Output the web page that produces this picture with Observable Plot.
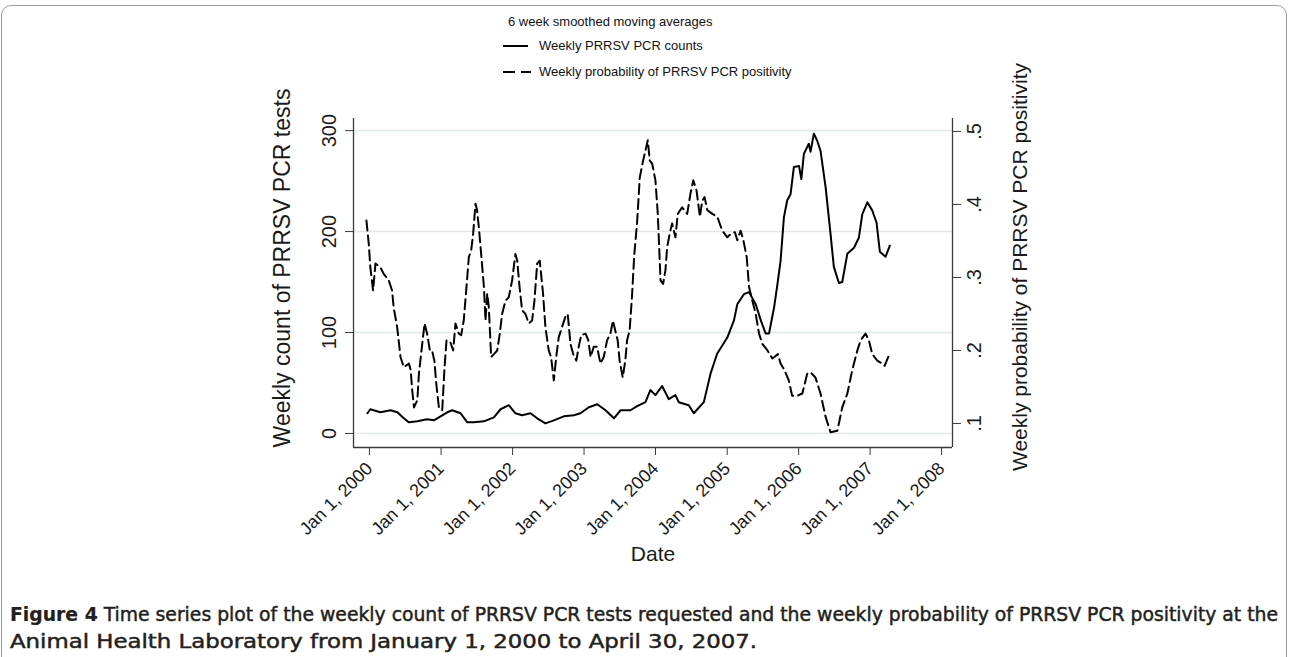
<!DOCTYPE html>
<html><head><meta charset="utf-8">
<script src="https://cdn.jsdelivr.net/npm/d3@7"></script>
<script src="https://cdn.jsdelivr.net/npm/@observablehq/plot@0.6"></script>
<style>
html,body{margin:0;padding:0;background:#fff;}
body{width:1290px;height:657px;position:relative;overflow:hidden;font-family:"Liberation Sans",Arial,sans-serif;}
#border{position:absolute;left:1px;top:5px;width:1286px;height:720px;border:1px solid #9a9a9a;border-radius:10px;box-sizing:border-box;}
#chart{position:absolute;left:0;top:0;}
.leg{position:absolute;font-size:13px;color:#111;white-space:nowrap;line-height:16px;}
.leg svg{position:absolute;}
#caption{position:absolute;left:10px;top:601px;font-family:"DejaVu Sans",sans-serif;font-stretch:condensed;font-size:20px;color:#231f20;line-height:27px;}
#caption div{white-space:nowrap;transform-origin:0 0;-webkit-text-stroke:0.45px #231f20;}
#caption b{-webkit-text-stroke:0.2px #231f20;}
</style></head><body>
<div id="border"></div>
<div id="chart"></div>
<div class="leg" style="left:508px;top:14px;">6 week smoothed moving averages</div>
<div class="leg" style="left:503px;top:38px;"><svg width="26" height="4" style="left:0;top:6px;"><line x1="0" y1="2" x2="25" y2="2" stroke="#000" stroke-width="2"/></svg><span style="position:absolute;left:36px;top:0;">Weekly PRRSV PCR counts</span></div>
<div class="leg" style="left:503px;top:64px;"><svg width="30" height="4" style="left:0;top:6px;"><line x1="0" y1="2" x2="28" y2="2" stroke="#000" stroke-width="2" stroke-dasharray="12,6"/></svg><span style="position:absolute;left:36px;top:0;">Weekly probability of PRRSV PCR positivity</span></div>
<div id="caption"><div id="cap1"><b>Figure 4</b> Time series plot of the weekly count of PRRSV PCR tests requested and the weekly probability of PRRSV PCR positivity at the</div><div id="cap2">Animal Health Laboratory from January 1, 2000 to April 30, 2007.</div></div>
<script>
// ---- data ----
const countDates = ["2000-01-06","2000-01-21","2000-03-12","2000-05-03","2000-06-07","2000-07-10","2000-08-05","2000-09-17","2000-11-06","2000-12-10","2001-01-05","2001-02-17","2001-03-14","2001-04-26","2001-05-30","2001-07-03","2001-08-23","2001-10-13","2001-11-16","2001-12-28","2002-01-31","2002-03-06","2002-04-18","2002-05-22","2002-07-03","2002-08-15","2002-10-05","2002-11-25","2002-12-29","2003-02-10","2003-03-25","2003-05-06","2003-06-18","2003-07-22","2003-09-10","2003-10-15","2003-11-26","2003-12-21","2004-01-16","2004-02-19","2004-03-24","2004-04-27","2004-05-14","2004-07-04","2004-07-30","2004-09-19","2004-10-23","2004-11-26","2005-01-17","2005-02-20","2005-03-09","2005-04-12","2005-05-08","2005-06-11","2005-07-07","2005-08-01","2005-08-18","2005-09-13","2005-09-30","2005-10-16","2005-11-02","2005-11-19","2005-12-06","2005-12-23","2006-01-18","2006-01-30","2006-02-12","2006-03-09","2006-03-18","2006-04-04","2006-04-21","2006-05-08","2006-06-03","2006-06-28","2006-07-15","2006-08-10","2006-08-27","2006-09-22","2006-10-26","2006-11-20","2006-12-07","2007-01-02","2007-01-27","2007-02-18","2007-03-07","2007-04-05","2007-04-27"];
const countValues = [20,24,21,23,21,15,11,12,14,13,16,21,23,20,11,11,12,16,24,28,20,18,20,15,10,13,17,18,20,26,29,23,15,23,23,27,31,43,38,47,34,38,31,28,20,31,59,79,95,112,128,138,140,128,112,99,99,125,148,171,214,231,237,264,265,252,277,287,279,297,290,280,244,198,165,149,150,178,184,194,217,229,221,209,180,175,186];

const probDates = ["2000-01-01","2000-01-13","2000-01-21","2000-02-04","2000-02-16","2000-03-12","2000-03-29","2000-04-24","2000-05-11","2000-05-19","2000-06-06","2000-06-23","2000-07-10","2000-08-05","2000-08-14","2000-08-22","2000-08-31","2000-09-17","2000-09-25","2000-10-12","2000-10-24","2000-11-06","2000-11-20","2000-12-01","2000-12-13","2000-12-23","2001-01-05","2001-01-22","2001-02-03","2001-02-13","2001-03-05","2001-03-19","2001-03-31","2001-04-17","2001-04-29","2001-05-12","2001-05-26","2001-06-07","2001-06-19","2001-06-29","2001-07-11","2001-07-19","2001-07-28","2001-08-09","2001-08-23","2001-08-31","2001-09-09","2001-09-17","2001-09-29","2001-10-13","2001-10-30","2001-11-12","2001-11-24","2001-12-11","2001-12-28","2002-01-14","2002-01-31","2002-02-09","2002-02-21","2002-03-06","2002-03-23","2002-04-09","2002-04-26","2002-05-08","2002-05-22","2002-06-04","2002-06-21","2002-07-03","2002-07-20","2002-08-01","2002-08-15","2002-08-29","2002-09-09","2002-09-26","2002-10-13","2002-10-25","2002-11-08","2002-11-22","2002-12-08","2002-12-20","2003-01-02","2003-01-24","2003-02-07","2003-02-19","2003-03-07","2003-03-24","2003-04-10","2003-04-27","2003-05-14","2003-05-31","2003-06-13","2003-06-25","2003-07-07","2003-07-17","2003-08-02","2003-08-15","2003-08-24","2003-09-06","2003-09-18","2003-09-30","2003-10-14","2003-10-28","2003-11-14","2003-11-26","2003-12-08","2003-12-18","2003-12-30","2004-01-16","2004-01-28","2004-02-11","2004-02-24","2004-03-07","2004-03-16","2004-03-29","2004-04-10","2004-04-27","2004-05-09","2004-05-31","2004-06-26","2004-07-13","2004-07-27","2004-08-13","2004-08-30","2004-09-11","2004-09-23","2004-10-07","2004-11-02","2004-11-27","2004-12-22","2005-01-17","2005-02-06","2005-02-25","2005-03-09","2005-03-26","2005-04-09","2005-04-26","2005-05-08","2005-05-25","2005-06-11","2005-06-28","2005-07-15","2005-08-10","2005-09-04","2005-10-03","2005-10-16","2005-11-05","2005-11-27","2005-12-14","2006-01-09","2006-02-04","2006-03-01","2006-03-18","2006-04-12","2006-05-08","2006-06-03","2006-06-28","2006-08-02","2006-08-27","2006-09-22","2006-10-17","2006-11-12","2006-11-29","2006-12-24","2007-01-10","2007-01-27","2007-02-22","2007-03-19","2007-03-31","2007-04-22"];
const probValues = [.378,.346,.314,.282,.319,.314,.305,.296,.282,.259,.232,.191,.177,.182,.173,.145,.122,.132,.168,.209,.237,.223,.2,.2,.186,.154,.122,.118,.177,.214,.211,.2,.237,.223,.221,.241,.287,.328,.337,.36,.401,.392,.369,.332,.287,.241,.278,.259,.191,.195,.2,.223,.25,.268,.273,.296,.332,.323,.287,.255,.25,.237,.241,.268,.319,.323,.278,.232,.2,.191,.159,.195,.218,.232,.246,.25,.209,.195,.186,.205,.221,.223,.214,.191,.205,.205,.182,.191,.214,.223,.241,.227,.214,.186,.163,.186,.214,.227,.273,.332,.374,.437,.46,.474,.488,.46,.456,.433,.387,.296,.291,.31,.342,.36,.374,.355,.387,.396,.387,.415,.433,.419,.383,.405,.41,.392,.387,.383,.364,.355,.36,.362,.351,.364,.351,.328,.287,.268,.25,.223,.209,.2,.189,.195,.182,.173,.159,.138,.138,.141,.168,.17,.163,.141,.109,.088,.09,.122,.141,.173,.2,.214,.223,.214,.195,.186,.182,.179,.193];

const xTickYears = [2000,2001,2002,2003,2004,2005,2006,2007,2008];
const countTicks = [0,100,200,300];
const probTicks = [0.1,0.2,0.3,0.4,0.5];
const leftTitle = "Weekly count of PRRSV PCR tests";
const rightTitle = "Weekly probability of PRRSV PCR positivity";
const xTitle = "Date";

// ---- build ----
const parse = d3.utcParse("%Y-%m-%d");
const countData = countDates.map((d,i)=>({date: parse(d), value: countValues[i]}));
const probData = probDates.map((d,i)=>({date: parse(d), value: probValues[i]})).filter(d=>d.value!=null);
const xTicks = xTickYears.map(y=>new Date(Date.UTC(y,0,1)));
// map probability onto the count axis (right axis alignment)
const pMap = d3.scaleLinear().domain([0.1,0.5]).range([9.9,299.2]);
const pFmt = v => d3.format(".1f")(v).replace(/^0/,"");
const xDomain = [new Date(Date.UTC(1999,9,27)), new Date(Date.UTC(2008,2,12))];
const yDomain = [-13.9, 312];
const axisColor = "#3a3a3a";
const textColor = "#1a1a1a";

const plot = Plot.plot({
  width: 1290, height: 578,
  marginLeft: 353, marginRight: 338, marginTop: 118, marginBottom: 131,
  style: {fontFamily: "'Liberation Sans', Arial, sans-serif", color: textColor, background: "transparent", overflow: "visible"},
  x: {type: "utc", domain: xDomain},
  y: {domain: yDomain},
  marks: [
    Plot.gridY(countTicks, {stroke: "#dce8ec", strokeOpacity: 1, strokeWidth: 1.5}),
    Plot.ruleY([yDomain[0]], {stroke: axisColor, strokeWidth: 1.3}),
    Plot.ruleX([xDomain[0], xDomain[1]], {stroke: axisColor, strokeWidth: 1.3}),
    Plot.axisY(countTicks, {anchor: "left", tickRotate: -90, tickSize: 8, tickPadding: 10, lineAnchor: "bottom", textAnchor: "middle", fontSize: 20, stroke: axisColor, label: null}),
    Plot.axisY(probTicks.map(pMap), {anchor: "right", tickRotate: -90, tickSize: 8, tickPadding: 6, lineAnchor: "top", textAnchor: "middle", fontSize: 20, stroke: axisColor, tickFormat: d => pFmt(pMap.invert(d)), label: null}),
    Plot.axisX(xTicks, {anchor: "bottom", tickRotate: -45, tickSize: 8, tickPadding: 10, dx: 3, fontSize: 18, stroke: axisColor, tickFormat: d3.utcFormat("Jan %-d, %Y"), label: null}),
    Plot.text([leftTitle], {frameAnchor: "left", rotate: -90, dx: -71, dy: -15, textAnchor: "middle", lineAnchor: "middle", fontSize: 23, fill: textColor}),
    Plot.text([rightTitle], {frameAnchor: "right", rotate: -90, dx: 68, dy: -16, textAnchor: "middle", lineAnchor: "middle", fontSize: 21, fill: textColor}),
    Plot.text([xTitle], {frameAnchor: "bottom", dy: 113, fontSize: 21, fill: textColor}),
    Plot.line(probData, {x: "date", y: d => pMap(d.value), stroke: "#000", strokeWidth: 2, strokeDasharray: "10,5"}),
    Plot.line(countData, {x: "date", y: "value", stroke: "#000", strokeWidth: 2})
  ]
});
document.getElementById("chart").appendChild(plot);

// fit each caption line to the width it spans in the reference
const fit = (id, target) => {
  const el = document.getElementById(id);
  el.style.display = "inline-block";
  const w = el.getBoundingClientRect().width;
  el.style.display = "block";
  el.style.transform = `scaleX(${target / w})`;
};
fit("cap1", 1268);
fit("cap2", 747);
</script>
</body></html>
